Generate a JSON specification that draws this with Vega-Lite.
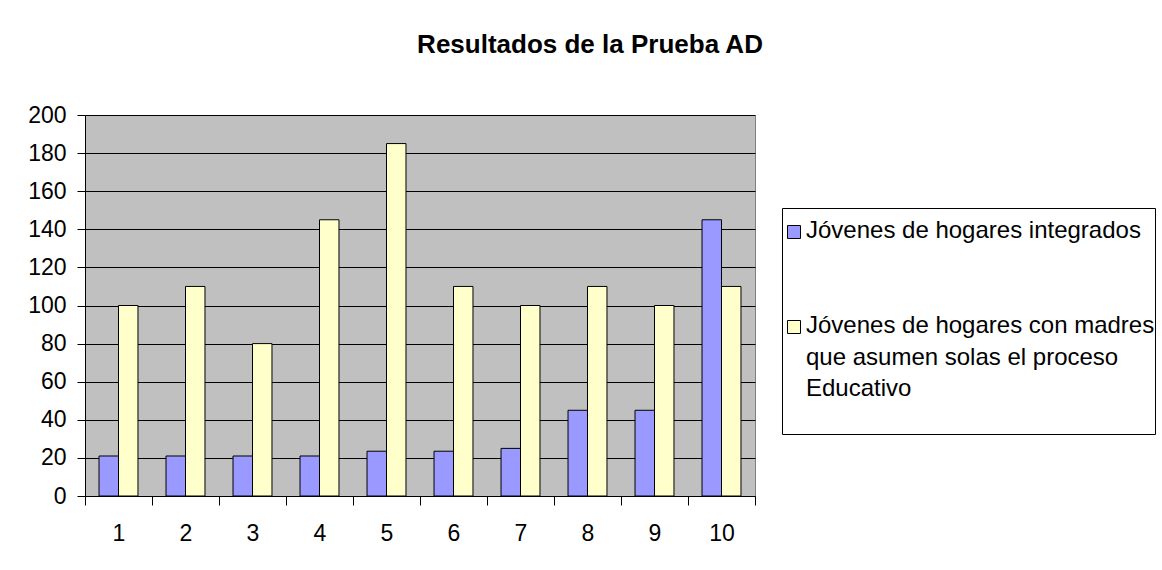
{
  "$schema": "https://vega.github.io/schema/vega-lite/v6.json",
  "width": 670,
  "height": 381,
  "autosize": {"type": "none"},
  "padding": {"left": 85, "top": 115, "right": 407, "bottom": 74},
  "background": "white",
  "title": {
    "text": "Resultados de la Prueba AD",
    "font": "Liberation Sans",
    "fontSize": 26,
    "fontWeight": "bold",
    "color": "black",
    "anchor": "middle",
    "dx": 170,
    "offset": 46
  },
  "data": {
    "values": [
      {"cat": 1, "serie": "Jóvenes de hogares integrados", "valor": 21},
      {"cat": 2, "serie": "Jóvenes de hogares integrados", "valor": 21},
      {"cat": 3, "serie": "Jóvenes de hogares integrados", "valor": 21},
      {"cat": 4, "serie": "Jóvenes de hogares integrados", "valor": 21},
      {"cat": 5, "serie": "Jóvenes de hogares integrados", "valor": 23.5},
      {"cat": 6, "serie": "Jóvenes de hogares integrados", "valor": 23.5},
      {"cat": 7, "serie": "Jóvenes de hogares integrados", "valor": 25},
      {"cat": 8, "serie": "Jóvenes de hogares integrados", "valor": 45},
      {"cat": 9, "serie": "Jóvenes de hogares integrados", "valor": 45},
      {"cat": 10, "serie": "Jóvenes de hogares integrados", "valor": 145},
      {"cat": 1, "serie": "Jóvenes de hogares con madres que asumen solas el proceso Educativo", "valor": 100},
      {"cat": 2, "serie": "Jóvenes de hogares con madres que asumen solas el proceso Educativo", "valor": 110},
      {"cat": 3, "serie": "Jóvenes de hogares con madres que asumen solas el proceso Educativo", "valor": 80},
      {"cat": 4, "serie": "Jóvenes de hogares con madres que asumen solas el proceso Educativo", "valor": 145},
      {"cat": 5, "serie": "Jóvenes de hogares con madres que asumen solas el proceso Educativo", "valor": 185},
      {"cat": 6, "serie": "Jóvenes de hogares con madres que asumen solas el proceso Educativo", "valor": 110},
      {"cat": 7, "serie": "Jóvenes de hogares con madres que asumen solas el proceso Educativo", "valor": 100},
      {"cat": 8, "serie": "Jóvenes de hogares con madres que asumen solas el proceso Educativo", "valor": 110},
      {"cat": 9, "serie": "Jóvenes de hogares con madres que asumen solas el proceso Educativo", "valor": 100},
      {"cat": 10, "serie": "Jóvenes de hogares con madres que asumen solas el proceso Educativo", "valor": 110}
    ]
  },
  "mark": {"type": "bar", "stroke": "black", "strokeWidth": 1},
  "encoding": {
    "x": {
      "field": "cat",
      "type": "ordinal",
      "scale": {"paddingInner": 0, "paddingOuter": 0},
      "axis": {
        "title": null,
        "labelAngle": 0,
        "tickBand": "extent",
        "tickSize": 9,
        "tickColor": "black",
        "domainColor": "black",
        "labelPadding": 17,
        "labelFont": "Liberation Sans",
        "labelFontSize": 23,
        "labelColor": "black",
        "grid": false
      }
    },
    "xOffset": {
      "field": "serie",
      "type": "nominal",
      "sort": ["Jóvenes de hogares integrados", "Jóvenes de hogares con madres que asumen solas el proceso Educativo"],
      "scale": {"paddingInner": 0, "paddingOuter": 0.72}
    },
    "y": {
      "field": "valor",
      "type": "quantitative",
      "scale": {"domain": [0, 200], "nice": false},
      "axis": {
        "title": null,
        "values": [0, 20, 40, 60, 80, 100, 120, 140, 160, 180, 200],
        "tickSize": 8,
        "tickColor": "black",
        "domainColor": "black",
        "gridColor": "black",
        "gridOpacity": 1,
        "labelPadding": 11,
        "labelFont": "Liberation Sans",
        "labelFontSize": 23,
        "labelColor": "black"
      }
    },
    "color": {
      "field": "serie",
      "type": "nominal",
      "sort": ["Jóvenes de hogares integrados", "Jóvenes de hogares con madres que asumen solas el proceso Educativo"],
      "scale": {"range": ["#9999FF", "#FFFFCC"]},
      "legend": {
        "title": " ",
        "titleFontSize": 4,
        "titlePadding": 8,
        "orient": "none",
        "legendX": 697,
        "legendY": 93,
        "direction": "vertical",
        "fillColor": "white",
        "strokeColor": "black",
        "padding": 0,
        "symbolType": "square",
        "symbolSize": 169,
        "symbolStrokeColor": "black",
        "symbolStrokeWidth": 1,
        "symbolOpacity": 1,
        "labelFont": "Liberation Sans",
        "labelFontSize": 24,
        "labelColor": "black",
        "labelLimit": 600,
        "labelOffset": 0,
        "rowPadding": 71,
        "labelBaseline": "top",
        "labelExpr": "datum.label == 'Jóvenes de hogares integrados' ? datum.label : ['Jóvenes de hogares con madres', 'que asumen solas el proceso', 'Educativo', '']",
        "encode": {
          "labels": {"update": {"lineHeight": {"value": 31.7}, "dy": {"value": -13}}}
        }
      }
    }
  },
  "config": {
    "view": {"fill": "#C0C0C0", "stroke": "#808080", "strokeWidth": 1},
    "axis": {"labelFont": "Liberation Sans"}
  }
}
